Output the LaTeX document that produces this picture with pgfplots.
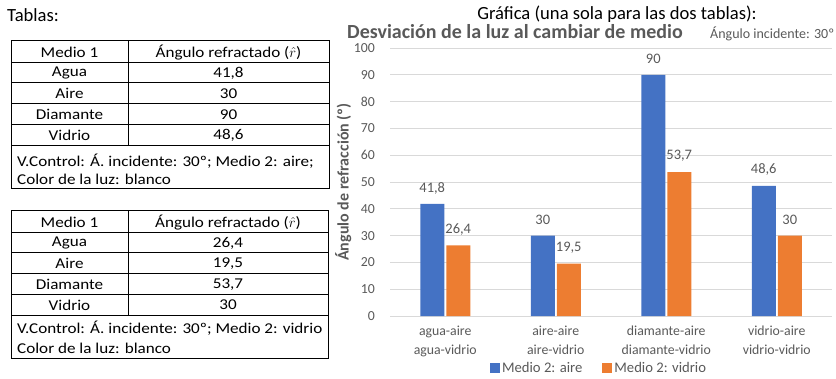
\documentclass[border=0pt]{standalone}
\usepackage{fontspec}
\setmainfont{Carlito}
\newfontfamily\tabfont[FakeStretch=1.14]{Carlito}
\usepackage{pgfplots}
\pgfplotsset{compat=1.18}
\definecolor{cblue}{HTML}{4472C4}
\definecolor{corange}{HTML}{ED7D31}
\definecolor{tgray}{HTML}{595959}
\definecolor{ggray}{HTML}{D9D9D9}
\newcommand{\tf}{\tabfont\fontsize{15}{17}\selectfont}
\newcommand{\hf}{\fontsize{18.6}{20}\selectfont}
\begin{document}
\begin{tikzpicture}[x=1pt,y=1pt]
\useasboundingbox (0,0) rectangle (836,-378);
% ---------- left side: tables ----------
\node[anchor=west,inner sep=0pt,font=\hf] at (7,-15) {Tablas:};
% table 1
\draw[line width=0.8pt] (11,-40.7) rectangle (329,-188);
\foreach \yy in {-62,-82.7,-103.3,-124,-145} \draw[line width=0.8pt] (11,\yy) -- (329,\yy);
\draw[line width=0.8pt] (128,-40.7) -- (128,-145);
\node[font=\tf] at (69.5,-52.5) {Medio 1};
\node[font=\tf] at (228.5,-52.5) {Ángulo refractado ($\hat{r}$)};
\node[font=\tf] at (69.5,-73) {Agua};   \node[font=\tf] at (228.5,-73) {41,8};
\node[font=\tf] at (69.5,-93.5) {Aire};     \node[font=\tf] at (228.5,-93.5) {30};
\node[font=\tf] at (69.5,-114.2) {Diamante}; \node[font=\tf] at (228.5,-114.2) {90};
\node[font=\tf] at (69.5,-135) {Vidrio}; \node[font=\tf] at (228.5,-135) {48,6};
\node[anchor=west,inner sep=0pt,font=\tf] at (17,-161) {V.Control: Á. incidente: 30º; Medio 2: aire;};
\node[anchor=west,inner sep=0pt,font=\tf] at (17,-179) {Color de la luz: blanco};
% table 2
\draw[line width=0.8pt] (11,-210.7) rectangle (328,-358);
\foreach \yy in {-232,-252.7,-273.3,-294,-315.5} \draw[line width=0.8pt] (11,\yy) -- (328,\yy);
\draw[line width=0.8pt] (128,-210.7) -- (128,-315.5);
\node[font=\tf] at (69.5,-222.5) {Medio 1};
\node[font=\tf] at (228,-222.5) {Ángulo refractado ($\hat{r}$)};
\node[font=\tf] at (69.5,-243) {Agua};   \node[font=\tf] at (228,-243) {26,4};
\node[font=\tf] at (69.5,-263.5) {Aire};     \node[font=\tf] at (228,-263.5) {19,5};
\node[font=\tf] at (69.5,-284.2) {Diamante}; \node[font=\tf] at (228,-284.2) {53,7};
\node[font=\tf] at (69.5,-305) {Vidrio}; \node[font=\tf] at (228,-305) {30};
\node[anchor=west,inner sep=0pt,font=\tf] at (17,-328.5) {V.Control: Á. incidente: 30º; Medio 2: vidrio};
\node[anchor=west,inner sep=0pt,font=\tf] at (17,-348) {Color de la luz: blanco};
% ---------- right side: chart ----------
\node[font=\hf] at (617,-14) {Gráfica (una sola para las dos tablas):};
\node[anchor=west,inner sep=0pt,text=tgray,font=\bfseries\fontsize{20}{22}\selectfont] at (347,-31.5) {Desviación de la luz al cambiar de medio};
\node[anchor=west,inner sep=0pt,text=tgray,font=\fontsize{14}{16}\selectfont] at (710,-33.5) {Ángulo incidente: 30º};
\begin{axis}[
  at={(390pt,-316pt)}, anchor=south west,
  scale only axis, width=442pt, height=268pt,
  ybar, bar width=24pt,
  ymin=0, ymax=100, ytick={0,10,...,100},
  xmin=-0.5, xmax=3.5, xtick={0,1,2,3},
  xticklabels={{agua-aire\\agua-vidrio},{aire-aire\\aire-vidrio},{diamante-aire\\diamante-vidrio},{vidrio-aire\\vidrio-vidrio}},
  /pgf/number format/assume math mode=true,
  axis x line*=bottom, axis y line*=left,
  y axis line style={draw=none},
  x axis line style={-,draw=ggray,line width=0.8pt},
  major tick length=0pt,
  ymajorgrids, grid style={ggray,line width=0.8pt},
  yticklabel style={font=\fontsize{13.8}{15}\selectfont,text=tgray,inner sep=0pt,xshift=-15pt},
  xticklabel style={font=\fontsize{13.8}{18.5}\selectfont,text=tgray,align=center,inner sep=0pt,yshift=-10pt},
  ylabel={\bfseries Ángulo de refracción (º)},
  ylabel style={font=\fontsize{16}{17}\selectfont,text=tgray,yshift=-1pt},
  nodes near coords={\pgfmathprintnumber[use comma,fixed,precision=1]{\pgfplotspointmeta}},
  nodes near coords style={font=\fontsize{14.5}{16}\selectfont,text=tgray,anchor=center,yshift=16pt},
  legend style={at={(0.473,-0.194)},anchor=center,draw=none,fill=none,legend columns=2,
    font=\fontsize{14.67}{16}\selectfont,text=tgray,
    /tikz/every even column/.append style={column sep=18pt}},
  legend image code/.code={\fill[#1,draw=none] (0pt,-5pt) rectangle (10pt,5pt);},
]
\addplot[fill=cblue,draw=none] coordinates {(0,41.8) (1,30) (2,90) (3,48.6)};
\addplot[fill=corange,draw=none] coordinates {(0,26.4) (1,19.5) (2,53.7) (3,30)};
\legend{Medio 2: aire, Medio 2: vidrio}
\end{axis}
\end{tikzpicture}
\end{document}
